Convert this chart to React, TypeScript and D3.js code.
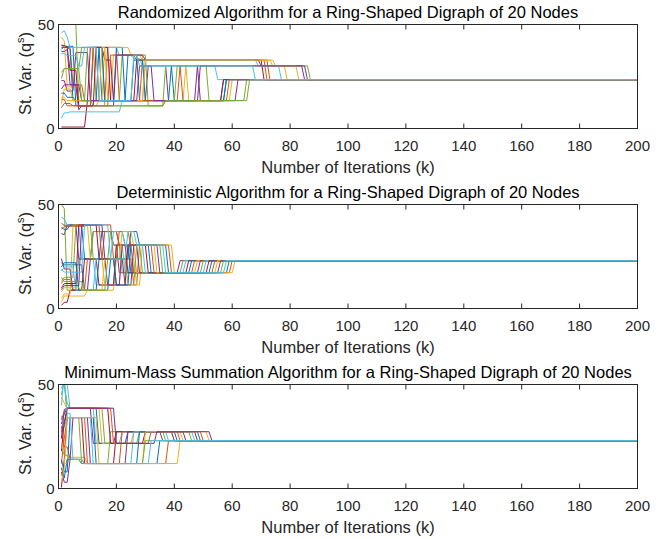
import React from 'react';
import * as d3 from 'd3';

const COLORS = ['#0072BD', '#D95319', '#EDB120', '#7E2F8E', '#77AC30', '#4DBEEE', '#A2142F'];
const xTicks = [0, 20, 40, 60, 80, 100, 120, 140, 160, 180, 200];
const yTicks = [0, 50];
const titles = [
  'Randomized Algorithm for a Ring-Shaped Digraph of 20 Nodes',
  'Deterministic Algorithm for a Ring-Shaped Digraph of 20 Nodes',
  'Minimum-Mass Summation Algorithm for a Ring-Shaped Digraph of 20 Nodes',
];
const xLabel = 'Number of Iterations (k)';

// Each run: breakpoints [iteration, value]; value holds until the next breakpoint.
const randomizedRuns: [number, number][][] = [
  [[1, 38], [2, 39.5], [6, 11], [12, 39], [15, 13.4], [24, 35.3], [28, 13.4], [57, 23.5]],
  [[1, 40], [2, 39], [5, 21], [9, 13.4], [17, 39], [21, 13.4], [29, 32.9], [73, 23.5]],
  [[1, 44], [2, 42], [3, 20], [7, 11], [14, 13.4], [19, 35.3], [30, 13.4], [44, 30.1], [45, 13.4], [60, 23.5]],
  [[1, 23], [3, 18], [6, 36.5], [11, 13.4], [31, 30.1], [38, 13.4], [48, 30.1], [49, 13.4], [62, 23.5]],
  [[1, 50], [7, 13.4], [10, 39], [13, 13.4], [22, 35.3], [31, 10.9], [37, 30.1], [52, 13.4], [65, 23.5]],
  [[1, 46], [2, 47], [3, 44], [4, 39], [21, 35.3], [26, 33.6], [29, 30.1], [55, 23.5]],
  [[1, 0.7], [10, 13.4], [11, 39], [16, 32.9], [19, 13.4], [27, 32.9], [71, 23.5]],
  [[1, 39], [4, 38], [5, 13.4], [20, 39], [23, 13.4], [39, 30.1], [40, 13.4], [58, 23.5]],
  [[1, 10], [2, 12], [5, 10.9], [18, 35.3], [27, 32.9], [72, 23.5]],
  [[1, 12], [2, 19], [5, 13.4], [16, 39], [25, 35.3], [29, 32.9], [74, 30.1], [79, 23.5]],
  [[1, 19], [2, 21], [7, 9], [8, 10.9], [20, 35.3], [30, 32.9], [70, 30.1], [85, 23.5]],
  [[1, 27], [2, 28.8], [8, 39], [16, 10.9], [37, 13.4], [41, 30.1], [87, 23.5]],
  [[1, 5], [2, 7.5], [4, 8], [22, 13.4], [30, 32.9], [69, 30.1], [77, 23.5]],
  [[1, 40], [3, 39], [4, 28], [7, 10.9], [13, 39], [18, 13.4], [57, 23.5]],
  [[1, 17], [3, 15], [6, 13.4], [14, 39], [16, 13.4], [26, 32.9], [30, 13.4], [58, 23.5]],
  [[1, 14], [3, 10.9], [12, 39], [14, 13.4], [42, 30.1], [43, 13.4], [59, 23.5]],
  [[1, 15], [3, 13.4], [15, 39], [17, 13.4], [30, 32.9], [75, 30.1], [83, 23.5]],
  [[1, 37], [3, 38], [4, 21], [8, 13.4], [28, 30.1], [33, 13.4], [49, 30.1], [86, 23.5]],
  [[1, 24], [2, 28.8], [8, 13.4], [12, 10.9], [37, 13.4], [66, 23.5]],
  [[1, 36], [3, 35], [7, 30], [9, 39], [14, 13.4], [26, 35.3], [28, 30.1], [68, 23.5]],
];

const deterministicRuns: [number, number][][] = [
  [[1, 22], [2, 21], [9, 8.8], [18, 23.8], [25, 37], [28, 30.5], [38, 17.2], [59, 23]],
  [[1, 38], [2, 39.5], [10, 40.2], [19, 23.8], [26, 11.3], [28, 30.5], [39, 17.2], [60, 23]],
  [[1, 3], [2, 6], [10, 8.8], [20, 23.8], [27, 11.3], [29, 30.5], [40, 17.2], [61, 23]],
  [[1, 36], [2, 35.5], [3, 40.2], [7, 23.8], [12, 37], [19, 30.5], [21, 17.2], [42, 23]],
  [[1, 50], [2, 48], [3, 8.8], [7, 23.8], [12, 37], [19, 30.5], [22, 17.2], [43, 23]],
  [[1, 44], [2, 43], [3, 40.2], [8, 23.8], [13, 11.3], [20, 30.5], [23, 17.2], [44, 23]],
  [[1, 1.5], [2, 3], [4, 8.8], [9, 23.8], [14, 11.3], [20, 30.5], [24, 17.2], [45, 23]],
  [[1, 39], [2, 38], [4, 40.2], [9, 23.8], [15, 37], [21, 30.5], [25, 17.2], [46, 23]],
  [[1, 12], [2, 14], [5, 8.8], [10, 23.8], [16, 37], [21, 30.5], [26, 17.2], [47, 23]],
  [[1, 5], [2, 7], [5, 40.2], [11, 23.8], [16, 11.3], [22, 30.5], [27, 17.2], [48, 23]],
  [[1, 24], [2, 19], [5, 8.8], [11, 23.8], [17, 11.3], [22, 30.5], [28, 17.2], [49, 23]],
  [[1, 13], [2, 15], [6, 40.2], [12, 23.8], [18, 37], [23, 30.5], [29, 17.2], [50, 23]],
  [[1, 18], [2, 20], [6, 8.8], [13, 23.8], [19, 37], [23, 30.5], [30, 17.2], [51, 23]],
  [[1, 10], [2, 12], [7, 40.2], [14, 23.8], [20, 11.3], [24, 30.5], [31, 17.2], [52, 23]],
  [[1, 20], [2, 22], [7, 8.8], [14, 23.8], [20, 11.3], [25, 30.5], [32, 17.2], [53, 23]],
  [[1, 41], [2, 40], [7, 40.2], [15, 23.8], [21, 37], [25, 30.5], [33, 17.2], [54, 23]],
  [[1, 8], [2, 10], [8, 8.8], [16, 23.8], [22, 37], [26, 30.5], [34, 17.2], [55, 23]],
  [[1, 9], [2, 11], [8, 40.2], [16, 23.8], [23, 11.3], [26, 30.5], [35, 17.2], [56, 23]],
  [[1, 15], [2, 13], [9, 8.8], [17, 23.8], [24, 11.3], [27, 30.5], [36, 17.2], [57, 23]],
  [[1, 19], [2, 17.5], [9, 40.2], [18, 23.8], [24, 37], [27, 30.5], [37, 17.2], [58, 23]],
];

const minMassRuns: [number, number][][] = [
  [[1, 10], [2, 5], [3, 14], [8, 12], [35, 23]],
  [[1, 30], [2, 20], [4, 14], [9, 12], [38, 23]],
  [[1, 6], [2, 12], [4, 15], [10, 12], [42, 23]],
  [[1, 31], [2, 36], [3, 38.6], [12, 21.7], [20, 27.3], [36, 23]],
  [[1, 45], [2, 52], [3, 34.1], [8, 12], [18, 27.3], [37, 23]],
  [[1, 40], [2, 55], [3, 50], [4, 38.6], [13, 21.7], [22, 27.3], [38, 23]],
  [[1, 0.5], [2, 14], [3, 34.1], [9, 12], [20, 27.3], [40, 23]],
  [[1, 27], [2, 30], [3, 38.6], [14, 21.7], [24, 27.3], [41, 23]],
  [[1, 12], [2, 24], [3, 34.1], [10, 12], [22, 27.3], [42, 23]],
  [[1, 44], [2, 41], [3, 38.6], [15, 21.7], [26, 27.3], [43, 23]],
  [[1, 8], [2, 3], [4, 14], [5, 34.1], [11, 12], [24, 27.3], [44, 23]],
  [[1, 50], [3, 41], [4, 38.6], [16, 21.7], [28, 27.3], [46, 23]],
  [[1, 35], [2, 30], [3, 34.1], [12, 12], [26, 27.3], [47, 23]],
  [[1, 18], [2, 32], [3, 38.6], [18, 21.7], [30, 27.3], [48, 23]],
  [[1, 14], [2, 8], [4, 34.1], [13, 12], [28, 27.3], [49, 23]],
  [[1, 33], [2, 37], [3, 38.6], [19, 21.7], [32, 27.3], [50, 23]],
  [[1, 3], [2, 10], [3, 34.1], [14, 12], [30, 27.3], [52, 23]],
  [[1, 24], [2, 38], [3, 38.6], [20, 21.7], [34, 27.3], [53, 23]],
  [[1, 20], [2, 16], [4, 14], [8, 12], [30, 23]],
  [[1, 48], [2, 52], [3, 36], [5, 14], [9, 12], [32, 23]],
];

const panels = [randomizedRuns, deterministicRuns, minMassRuns];

const W = 671;
const H = 539;
const LEFT = 58.5;
const RIGHT = 637.5;
const TOPS = [24.5, 204.5, 384.5];
const PH = 104;
const K_MAX = 200;
const AX = '#262626';
const FONT = '"Liberation Sans", Arial, Helvetica, sans-serif';

function expand(bp: [number, number][]): [number, number][] {
  const pts: [number, number][] = [[bp[0][0], bp[0][1]]];
  for (let i = 1; i < bp.length; i++) {
    const [k, v] = bp[i];
    const prev = bp[i - 1][1];
    if (k - 1 > pts[pts.length - 1][0]) pts.push([k - 1, prev]);
    pts.push([k, v]);
  }
  pts.push([K_MAX, bp[bp.length - 1][1]]);
  return pts;
}

function Panel({ idx }: { idx: number }) {
  const top = TOPS[idx];
  const bottom = top + PH;
  const x = d3.scaleLinear().domain([0, 200]).range([LEFT, RIGHT]);
  const y = d3.scaleLinear().domain([0, 50]).range([bottom, top]);
  const line = d3
    .line<[number, number]>()
    .x((d) => x(d[0]))
    .y((d) => y(d[1]));
  const runs = panels[idx];
  const clipId = `clip-${idx}`;
  return (
    <g>
      <defs>
        <clipPath id={clipId}>
          <rect x={LEFT} y={top} width={RIGHT - LEFT} height={PH} />
        </clipPath>
      </defs>
      <g clipPath={`url(#${clipId})`}>
        {runs.map((r, i) => (
          <path
            key={i}
            d={line(expand(r)) || ''}
            fill="none"
            stroke={COLORS[i % COLORS.length]}
            strokeWidth={1}
          />
        ))}
      </g>
      <rect x={LEFT} y={top} width={RIGHT - LEFT} height={PH} fill="none" stroke={AX} strokeWidth={1} />
      {xTicks.map((t) => (
        <g key={t}>
          <line x1={x(t)} x2={x(t)} y1={bottom} y2={bottom - 5} stroke={AX} strokeWidth={1} />
          <line x1={x(t)} x2={x(t)} y1={top} y2={top + 5} stroke={AX} strokeWidth={1} />
          <text
            x={x(t)}
            y={bottom + 22}
            textAnchor="middle"
            fontFamily={FONT}
            fontSize={15}
            fill={AX}
          >
            {t}
          </text>
        </g>
      ))}
      {yTicks.map((t) => (
        <g key={t}>
          <line x1={LEFT} x2={LEFT + 5} y1={y(t)} y2={y(t)} stroke={AX} strokeWidth={1} />
          <line x1={RIGHT} x2={RIGHT - 5} y1={y(t)} y2={y(t)} stroke={AX} strokeWidth={1} />
          <text
            x={LEFT - 4}
            y={y(t) + 5.5}
            textAnchor="end"
            fontFamily={FONT}
            fontSize={15}
            fill={AX}
          >
            {t}
          </text>
        </g>
      ))}
      <text
        x={(LEFT + RIGHT) / 2}
        y={top - 7}
        textAnchor="middle"
        fontFamily={FONT}
        fontSize={16.5}
        fill="#000"
      >
        {titles[idx]}
      </text>
      <text
        x={(LEFT + RIGHT) / 2}
        y={bottom + 44}
        textAnchor="middle"
        fontFamily={FONT}
        fontSize={16.5}
        fill={AX}
      >
        {xLabel}
      </text>
      <text
        transform={`translate(${31},${top + PH / 2 - 3}) rotate(-90)`}
        textAnchor="middle"
        fontFamily={FONT}
        fontSize={16.5}
        fill={AX}
      >
        St. Var. (q
        <tspan fontSize={11} dy={-7}>
          s
        </tspan>
        <tspan dy={7}>)</tspan>
      </text>
    </g>
  );
}

export default function App() {
  return (
    <svg
      width={W}
      height={H}
      viewBox={`0 0 ${W} ${H}`}
      style={{ position: 'absolute', left: 0, top: 0, background: '#fff' }}
    >
      <rect x={0} y={0} width={W} height={H} fill="#fff" />
      {[0, 1, 2].map((i) => (
        <Panel key={i} idx={i} />
      ))}
    </svg>
  );
}
